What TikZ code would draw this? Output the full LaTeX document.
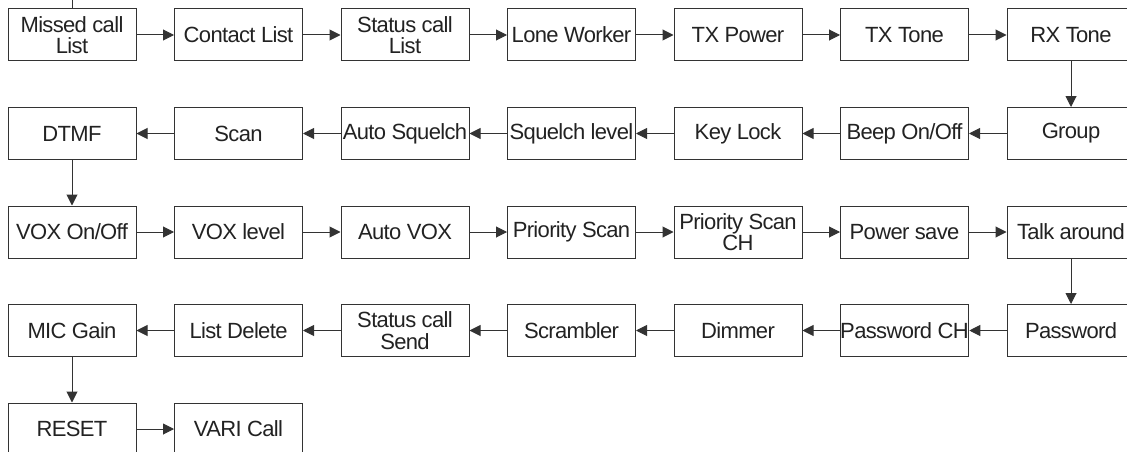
\documentclass[tikz,border=0pt]{standalone}
\usepackage{fontspec}
\setmainfont{Liberation Sans}[LetterSpace=-3]
\usetikzlibrary{arrows.meta}
\definecolor{ln}{HTML}{333333}
\definecolor{tx}{HTML}{222222}
\tikzset{
  box/.style={draw=ln, line width=1pt, minimum width=128pt, minimum height=52pt,
    inner sep=0pt, align=center, text=tx, font=\fontsize{22}{21.5}\selectfont},
  arr/.style={draw=ln, line width=1pt, -{Triangle[length=11pt,width=11pt]}},
  plain/.style={draw=ln, line width=1pt}
}
\begin{document}
\begin{tikzpicture}[x=1pt,y=-1pt]
\useasboundingbox (0,0) rectangle (1127,452);
\clip (0,0) rectangle (1127,452);
\foreach \t [count=\i] in {{Missed call\\List},{Contact List},{Status call\\List},{Lone Worker},{TX Power},{TX Tone},{RX Tone}}
  \node[box] (r1c\i) at ({72+166.5*(\i-1)},35) {\t};
\foreach \t [count=\i] in {{DTMF},{Scan},{Auto Squelch},{Squelch level},{Key Lock},{Beep On/Off},{Group}}
  \node[box] (r2c\i) at ({72+166.5*(\i-1)},133.5) {\t};
\foreach \t [count=\i] in {{VOX On/Off},{VOX level},{Auto VOX},{Priority Scan},{Priority Scan\\CH},{Power save},{Talk around}}
  \node[box] (r3c\i) at ({72+166.5*(\i-1)},232) {\t};
\foreach \t [count=\i] in {{MIC Gain},{List Delete},{Status call\\Send},{Scrambler},{Dimmer},{Password CH},{Password}}
  \node[box] (r4c\i) at ({72+166.5*(\i-1)},330.5) {\t};
\foreach \t [count=\i] in {{RESET},{VARI Call}}
  \node[box] (r5c\i) at ({72+166.5*(\i-1)},429) {\t};
\coordinate (topend) at (72,-5);
\draw[plain] (r1c1) -- (topend);
\foreach \i/\j in {1/2,2/3,3/4,4/5,5/6,6/7} {
  \draw[arr] (r1c\i) -- (r1c\j);
  \draw[arr] (r2c\j) -- (r2c\i);
  \draw[arr] (r3c\i) -- (r3c\j);
  \draw[arr] (r4c\j) -- (r4c\i);
}
\draw[arr] (r5c1) -- (r5c2);
\draw[arr] (r1c7) -- (r2c7);
\draw[arr] (r2c1) -- (r3c1);
\draw[arr] (r3c7) -- (r4c7);
\draw[arr] (r4c1) -- (r5c1);
\end{tikzpicture}
\end{document}
